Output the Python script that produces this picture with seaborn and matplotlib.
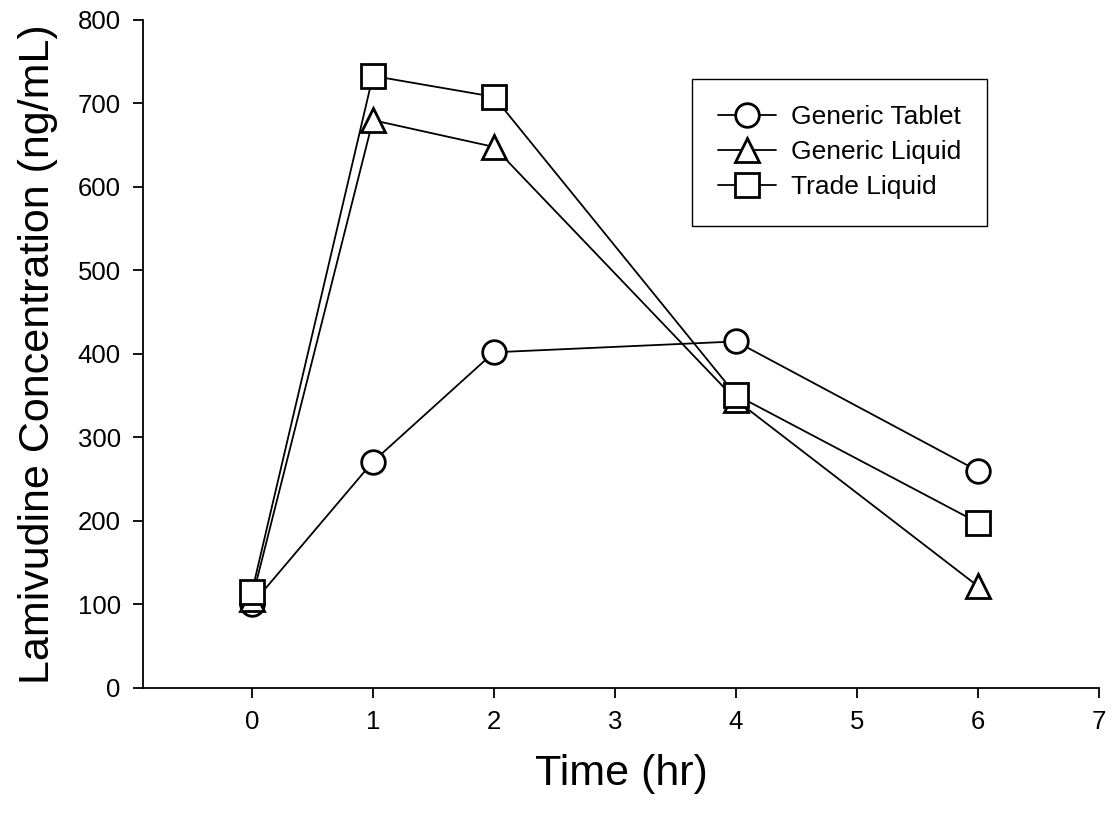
import matplotlib
matplotlib.use("Agg")
import matplotlib.pyplot as plt
import seaborn as sns
import pandas as pd

time_hr = [0, 1, 2, 4, 6]
generic_tablet = [100, 271, 402, 415, 260]
generic_liquid = [106, 680, 648, 345, 122]
trade_liquid = [115, 733, 708, 351, 198]

series_names = ["Generic Tablet", "Generic Liquid", "Trade Liquid"]
series_values = [generic_tablet, generic_liquid, trade_liquid]
series_markers = ["o", "^", "s"]

x_ticks = [0, 1, 2, 3, 4, 5, 6, 7]
y_ticks = [0, 100, 200, 300, 400, 500, 600, 700, 800]

sns.set_theme(style="ticks")
plt.rcParams["font.family"] = ["Liberation Sans", "DejaVu Sans"]
plt.rcParams["text.color"] = "black"
plt.rcParams["axes.labelcolor"] = "black"

fig = plt.figure(figsize=(11.14, 8.19), dpi=100)
ax = fig.add_axes([0.1284, 0.16, 0.858, 0.8156])

for name, vals, mk in zip(series_names, series_values, series_markers):
    df = pd.DataFrame({"t": time_hr, "c": vals})
    sns.lineplot(data=df, x="t", y="c", ax=ax, color="black", linewidth=1.3,
                 marker=mk, markersize=17, markerfacecolor="white",
                 markeredgecolor="black", markeredgewidth=2.0, label=name)

ax.set_xlim(-0.9, 7)
ax.set_ylim(0, 800)
ax.set_xticks(x_ticks)
ax.set_yticks(y_ticks)
ax.tick_params(axis="both", direction="out", length=7, width=1.3, color="black",
               labelsize=18.5, labelcolor="black")
ax.tick_params(axis="x", pad=9)
ax.tick_params(axis="y", pad=9)
for s in ["top", "right"]:
    ax.spines[s].set_visible(False)
for s in ["left", "bottom"]:
    ax.spines[s].set_color("black")
    ax.spines[s].set_linewidth(1.3)

ax.set_xlabel("Time (hr)", fontsize=31, labelpad=14, color="black")
ax.set_ylabel("Lamivudine Concentration (ng/mL)", fontsize=31, labelpad=14, color="black")

leg = ax.legend(loc="upper left", bbox_to_anchor=(0.574, 0.912), fontsize=19,
                frameon=True, fancybox=False, edgecolor="black", framealpha=1,
                handlelength=2.2, handletextpad=0.55, labelspacing=0.42,
                borderpad=1.0, borderaxespad=0)
leg.get_frame().set_linewidth(1.0)
for t in leg.get_texts():
    t.set_color("black")

fig.savefig("out.png", dpi=100)
